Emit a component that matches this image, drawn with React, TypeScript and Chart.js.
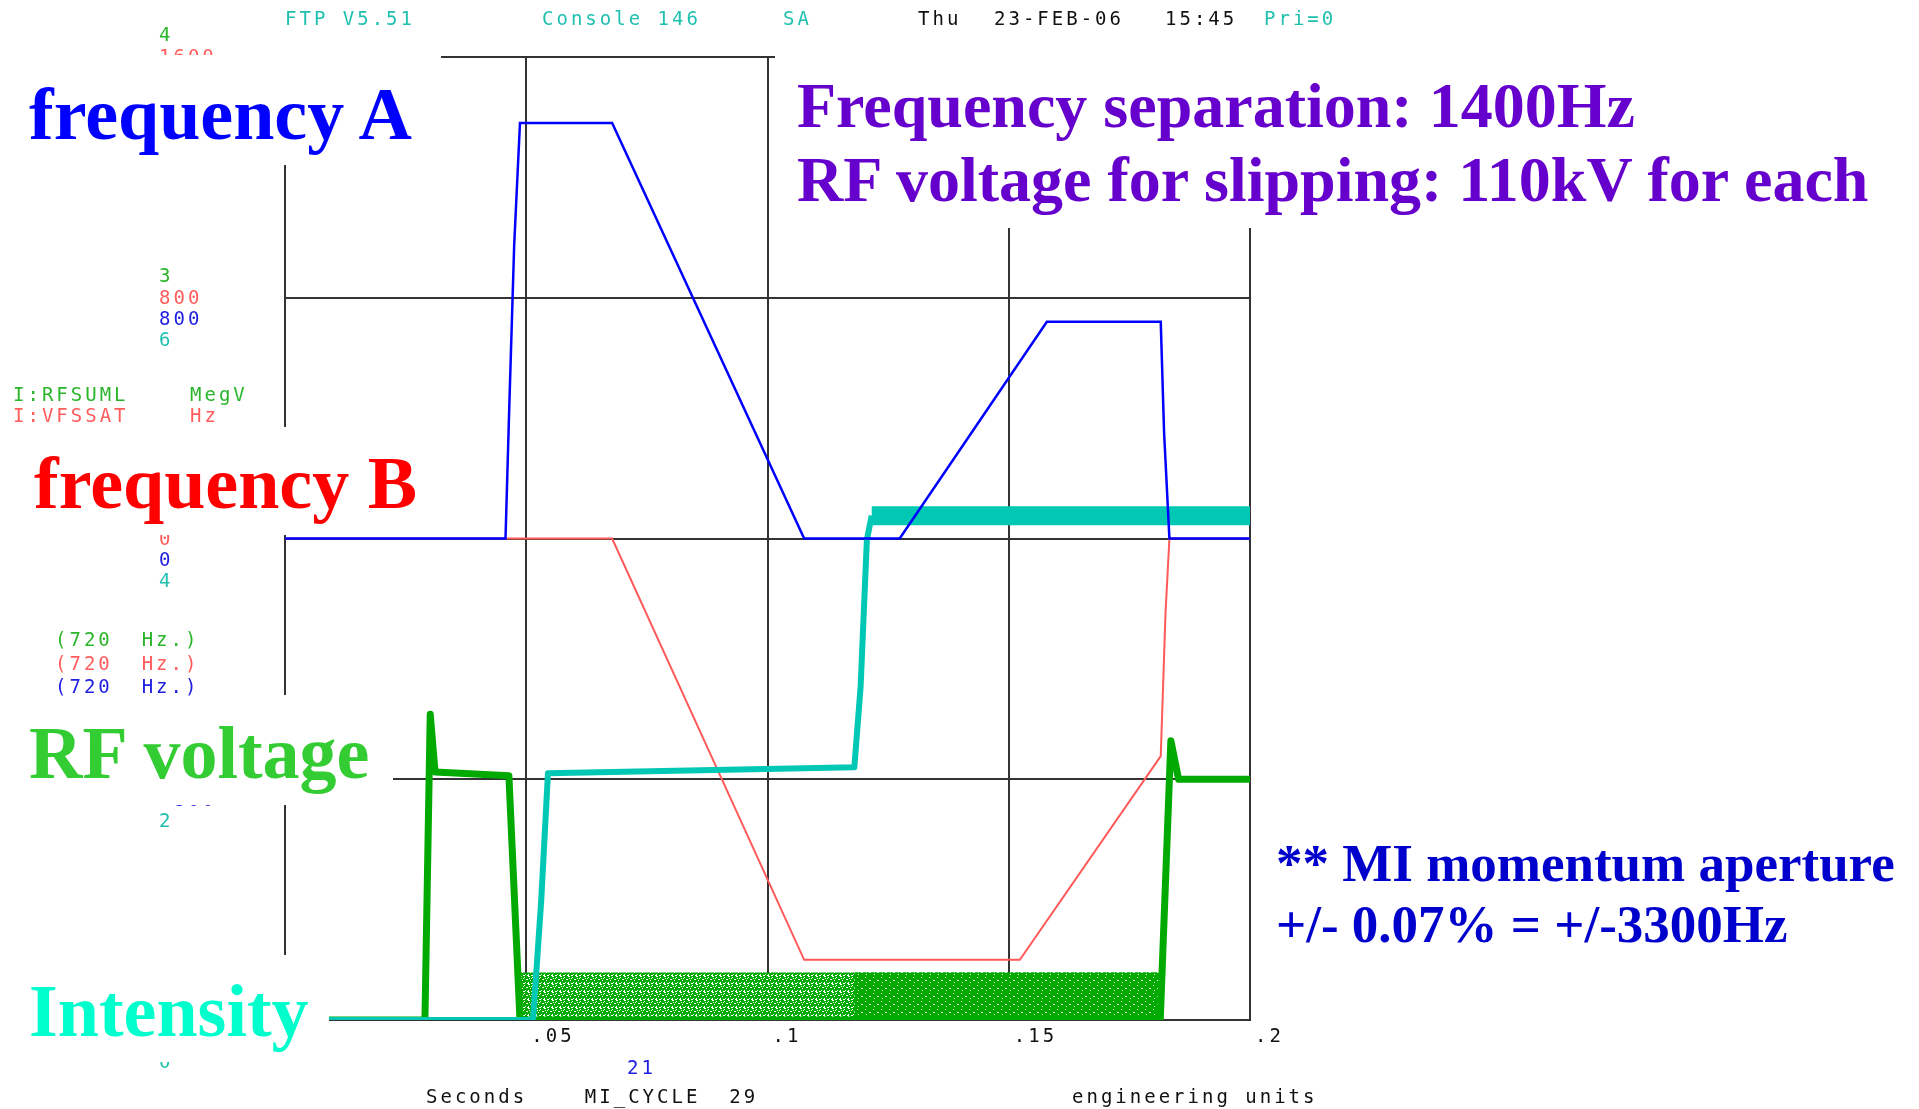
import React, { useEffect, useRef } from "react";
import { Chart, registerables } from "chart.js";

Chart.register(...registerables);

// ---- time axis (seconds into the MI cycle) ----
const timeTickValues = [0, 0.05, 0.1, 0.15, 0.2];
const timeTickLabels = ["", ".05", ".1", ".15", ".2"];

// ---- stacked left-hand tick labels, one set per plotted device ----
const rfTickValues = [0, 1, 2, 3, 4];
const rfTickLabels = ["0", "1", "2", "3", "4"];
const freqTickValues = [-1600, -800, 0, 800, 1600];
const freqTickLabels = ["-1600", "-800", "0", "800", "1600"];
const intTickValues = [0, 2, 4, 6, 8];
const intTickLabels = ["0", "2", "4", "6", "8"];

// ---- I:RFSUML  RF voltage (MegV) ----
const rfTime = [0, 0.029, 0.0301, 0.0311, 0.0464, 0.0487, 0.1814, 0.1836, 0.1852, 0.2];
const rfVolts = [0, 0, 1.27, 1.03, 1.015, 0, 0, 1.16, 1.0, 1.0];

// RF noise floor while the cavities are parked
const rfNoiseTime = [0.0482, 0.118, 0.1814];
const rfNoiseTop = [0.197, 0.197, 0.197];

// ---- frequency A (Hz) ----
const freqATime = [0, 0.0457, 0.0465, 0.0475, 0.0487, 0.0678, 0.1076, 0.1274, 0.1579, 0.1815, 0.1822, 0.1833, 0.2];
const freqAHz = [0, 0, 447, 975, 1381, 1381, 0, 0, 720, 720, 350, 0, 0];

// ---- frequency B, I:VFSSAT (Hz) ----
const freqBTime = [0, 0.0678, 0.1076, 0.1523, 0.1815, 0.1825, 0.1833, 0.2];
const freqBHz = [0, 0, -1400, -1400, -723, -244, 0, 0];

// ---- beam intensity ----
const intTime = [0, 0.0514, 0.0531, 0.0545, 0.118, 0.1193, 0.1206, 0.1216, 0.2];
const intValue = [0, 0, 0.99, 2.05, 2.1, 2.77, 3.99, 4.19, 4.19];

// colours
const TRACE_BLUE = "#0000ff";
const TRACE_RED = "#ff5a5a";
const TRACE_GREEN = "#00aa00";
const TRACE_CYAN = "#00c8b4";
const TXT_GREEN = "#2bb52b";
const TXT_RED = "#ff5c5c";
const TXT_BLUE = "#2020e0";
const TXT_CYAN = "#20c0b0";
const TXT_BLACK = "#111111";
const GRID = "#333333";

const MONO = '"DejaVu Sans Mono", monospace';
const SERIF = '"Liberation Serif", "Times New Roman", serif';
const LABEL_X = 159;

const pts = (xs: number[], ys: number[]) => xs.map((x, i) => ({ x, y: ys[i] }));

// green fill tile with white flecks, used for the noisy RF floor
function speckle(ctx: CanvasRenderingContext2D, size: number, flecks: number[][]) {
  const tile = document.createElement("canvas");
  tile.width = size;
  tile.height = size;
  const g = tile.getContext("2d")!;
  g.fillStyle = TRACE_GREEN;
  g.fillRect(0, 0, size, size);
  g.fillStyle = "#ffffff";
  flecks.forEach(([x, y, w, h]) => g.fillRect(x, y, w, h));
  return ctx.createPattern(tile, "repeat") as CanvasPattern;
}

const consoleTicks = {
  id: "consoleTicks",
  afterDraw(chart: any) {
    const { ctx, scales, chartArea } = chart;
    ctx.save();
    ctx.font = `19px ${MONO}`;
    ctx.letterSpacing = "3px";
    ctx.textAlign = "left";
    ctx.textBaseline = "alphabetic";
    const stacks = [
      { scale: scales.yRF, values: rfTickValues, labels: rfTickLabels, color: TXT_GREEN, dy: -23 },
      { scale: scales.yFreq, values: freqTickValues, labels: freqTickLabels, color: TXT_RED, dy: -1 },
      { scale: scales.yFreq, values: freqTickValues, labels: freqTickLabels, color: TXT_BLUE, dy: 20 },
      { scale: scales.yInt, values: intTickValues, labels: intTickLabels, color: TXT_CYAN, dy: 41 },
    ];
    stacks.forEach((s) => {
      ctx.fillStyle = s.color;
      s.values.forEach((v: number, i: number) => {
        ctx.fillText(s.labels[i], LABEL_X, s.scale.getPixelForValue(v) + s.dy + 7);
      });
    });
    ctx.fillStyle = TXT_BLACK;
    timeTickValues.forEach((v, i) => {
      if (!timeTickLabels[i]) return;
      ctx.fillText(timeTickLabels[i], scales.x.getPixelForValue(v) + 5, chartArea.bottom + 22);
    });
    ctx.restore();
  },
};

type TxtProps = {
  x: number;
  base: number;
  size: number;
  color: string;
  text: string;
  serif?: boolean;
};

function Txt({ x, base, size, color, text, serif }: TxtProps) {
  const ratio = serif ? 0.8375 : 0.846;
  return (
    <div
      style={{
        position: "absolute",
        left: x,
        top: base - ratio * size,
        fontSize: size,
        lineHeight: `${size}px`,
        fontFamily: serif ? SERIF : MONO,
        fontWeight: serif ? 700 : 400,
        letterSpacing: serif ? 0 : 3,
        color,
        whiteSpace: "pre",
      }}
    >
      {text}
    </div>
  );
}

// mono labels are placed by the vertical centre of their capitals
const Mono = ({ x, cy, color, text }: { x: number; cy: number; color: string; text: string }) => (
  <Txt x={x} base={cy + 7} size={19} color={color} text={text} />
);

const masks = [
  { left: 0, top: 55, width: 441, height: 110 },
  { left: 775, top: 32, width: 1144, height: 196 },
  { left: 0, top: 427, width: 440, height: 108 },
  { left: 0, top: 695, width: 393, height: 110 },
  { left: 0, top: 955, width: 329, height: 107 },
];

export default function App() {
  const ref = useRef<HTMLCanvasElement | null>(null);

  useEffect(() => {
    const canvas = ref.current!;
    const ctx = canvas.getContext("2d")!;
    const speckled = speckle(ctx, 8, [
      [0, 0, 2, 1], [4, 1, 1, 1], [6, 3, 2, 1], [2, 4, 1, 1], [5, 6, 1, 1],
      [0, 6, 1, 2], [3, 2, 1, 1], [7, 7, 1, 1], [1, 2, 1, 1], [3, 7, 2, 1],
    ]);
    const denser = speckle(ctx, 8, [[1, 1, 1, 1], [5, 4, 2, 1], [2, 6, 1, 1]]);

    const chart = new Chart(canvas, {
      type: "line",
      data: {
        datasets: [
          {
            label: "frequency A",
            data: pts(freqATime, freqAHz),
            yAxisID: "yFreq",
            borderColor: TRACE_BLUE,
            borderWidth: 2.5,
            order: 0,
          },
          {
            label: "Intensity",
            data: pts(intTime, intValue),
            yAxisID: "yInt",
            borderColor: TRACE_CYAN,
            borderWidth: 6,
            borderJoinStyle: "round",
            segment: {
              borderWidth: (c: any) => (c.p0.parsed.x >= 0.1215 ? 19 : 6),
            },
            order: 1,
          },
          {
            label: "frequency B",
            data: pts(freqBTime, freqBHz),
            yAxisID: "yFreq",
            borderColor: TRACE_RED,
            borderWidth: 2,
            order: 2,
          },
          {
            label: "RF voltage",
            data: pts(rfTime, rfVolts),
            yAxisID: "yRF",
            borderColor: TRACE_GREEN,
            borderWidth: 7,
            borderJoinStyle: "round",
            order: 3,
          },
          {
            label: "RF noise (late)",
            data: pts(rfNoiseTime.slice(1), rfNoiseTop.slice(1)),
            yAxisID: "yRF",
            borderWidth: 0,
            borderColor: "rgba(0,0,0,0)",
            backgroundColor: denser,
            fill: "origin",
            order: 4,
          },
          {
            label: "RF noise",
            data: pts(rfNoiseTime, rfNoiseTop),
            yAxisID: "yRF",
            borderWidth: 0,
            borderColor: "rgba(0,0,0,0)",
            backgroundColor: speckled,
            fill: "origin",
            order: 5,
          },
        ],
      },
      options: {
        responsive: false,
        animation: false,
        devicePixelRatio: 1,
        layout: { padding: { left: 285, right: 669, top: 57, bottom: 89 } },
        plugins: { legend: { display: false }, tooltip: { enabled: false } },
        elements: { point: { radius: 0 }, line: { tension: 0 } },
        scales: {
          x: {
            type: "linear",
            min: 0,
            max: 0.2,
            ticks: { display: false, stepSize: 0.05 },
            grid: { color: GRID, lineWidth: 2, drawTicks: false },
            border: { color: GRID, width: 2 },
          },
          yRF: {
            position: "left",
            min: 0,
            max: 4,
            ticks: { display: false, stepSize: 1 },
            grid: { color: GRID, lineWidth: 2, drawTicks: false },
            border: { color: GRID, width: 2 },
          },
          yFreq: { display: false, min: -1600, max: 1600 },
          yInt: { display: false, min: 0, max: 8 },
        },
      },
      plugins: [consoleTicks],
    } as any);

    return () => chart.destroy();
  }, []);

  return (
    <div
      style={{
        position: "absolute",
        left: 0,
        top: 0,
        width: 1919,
        height: 1109,
        overflow: "hidden",
        background: "#ffffff",
      }}
    >
      <canvas ref={ref} width={1919} height={1109} style={{ position: "absolute", left: 0, top: 0, width: 1919, height: 1109 }} />

      {masks.map((m, i) => (
        <div key={i} style={{ position: "absolute", background: "#ffffff", ...m }} />
      ))}

      {/* console header */}
      <Mono x={285} cy={18} color={TXT_CYAN} text="FTP V5.51" />
      <Mono x={542} cy={18} color={TXT_CYAN} text="Console 146" />
      <Mono x={783} cy={18} color={TXT_CYAN} text="SA" />
      <Mono x={918} cy={18} color={TXT_BLACK} text="Thu" />
      <Mono x={994} cy={18} color={TXT_BLACK} text="23-FEB-06" />
      <Mono x={1165} cy={18} color={TXT_BLACK} text="15:45" />
      <Mono x={1264} cy={18} color={TXT_CYAN} text="Pri=0" />

      {/* device legend */}
      <Mono x={13} cy={394} color={TXT_GREEN} text="I:RFSUML" />
      <Mono x={190} cy={394} color={TXT_GREEN} text="MegV" />
      <Mono x={13} cy={415} color={TXT_RED} text="I:VFSSAT" />
      <Mono x={190} cy={415} color={TXT_RED} text="Hz" />
      <Mono x={55} cy={639} color={TXT_GREEN} text="(720  Hz.)" />
      <Mono x={55} cy={663} color={TXT_RED} text="(720  Hz.)" />
      <Mono x={55} cy={686} color={TXT_BLUE} text="(720  Hz.)" />

      {/* footer */}
      <Mono x={627} cy={1067} color={TXT_BLUE} text="21" />
      <Mono x={426} cy={1096} color={TXT_BLACK} text="Seconds    MI_CYCLE  29" />
      <Mono x={1072} cy={1096} color={TXT_BLACK} text="engineering units" />

      {/* trace names */}
      <Txt serif x={29} base={139} size={74} color="#0000ff" text="frequency A" />
      <Txt serif x={34} base={508} size={74} color="#ff0000" text="frequency B" />
      <Txt serif x={29} base={778} size={74} color="#33cc33" text="RF voltage" />
      <Txt serif x={29} base={1036} size={74} color="#00ffcc" text="Intensity" />

      {/* notes */}
      <Txt serif x={797} base={128} size={64} color="#6600cc" text="Frequency separation: 1400Hz" />
      <Txt serif x={797} base={202} size={64} color="#6600cc" text="RF voltage for slipping: 110kV for each" />
      <Txt serif x={1276} base={881} size={53} color="#0000cc" text="** MI momentum aperture" />
      <Txt serif x={1276} base={942} size={53} color="#0000cc" text="+/- 0.07% = +/-3300Hz" />
    </div>
  );
}
